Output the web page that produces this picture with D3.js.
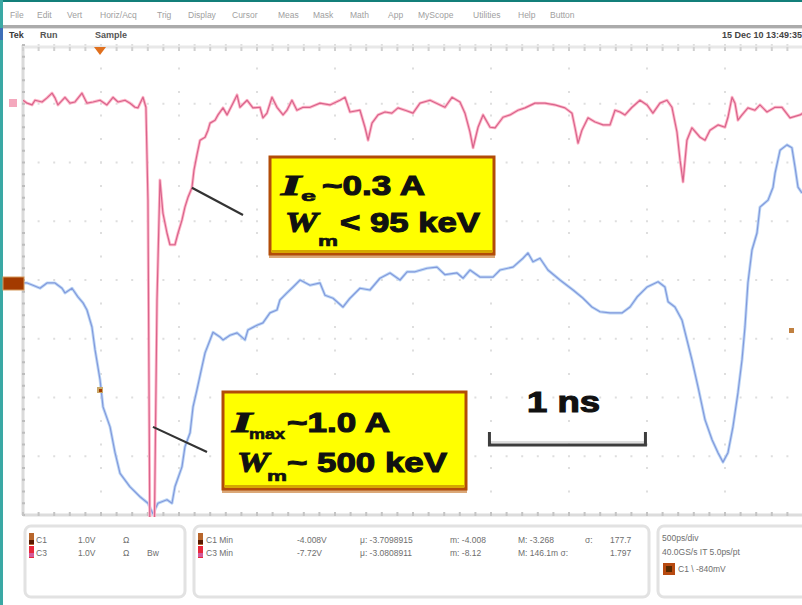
<!DOCTYPE html>
<html>
<head>
<meta charset="utf-8">
<script src="https://cdn.jsdelivr.net/npm/d3@7"></script>
<style>
  body { margin: 0; background: #fff; }
  svg { display: block; }
  text { font-family: "Liberation Sans", Arial, sans-serif; }
</style>
</head>
<body>
<svg id="scope" width="802" height="605"></svg>
<script>
// C3 (red, beam current) : time in ns, volts
const c3Time = [0.000, 0.026, 0.058, 0.077, 0.122, 0.154, 0.186, 0.205, 0.224, 0.269,
  0.301, 0.333, 0.378, 0.410, 0.449, 0.494, 0.538, 0.577, 0.609, 0.654,
  0.686, 0.718, 0.737, 0.769, 0.788, 0.801, 0.814, 0.840, 0.859, 0.878,
  0.897, 0.923, 0.942, 0.974, 0.994, 1.019, 1.038, 1.058, 1.083, 1.096,
  1.115, 1.135, 1.167, 1.186, 1.199, 1.231, 1.250, 1.282, 1.308, 1.346,
  1.372, 1.391, 1.436, 1.474, 1.519, 1.538, 1.564, 1.596, 1.628, 1.667,
  1.692, 1.724, 1.756, 1.795, 1.840, 1.904, 1.968, 2.032, 2.064, 2.096,
  2.160, 2.192, 2.212, 2.237, 2.276, 2.321, 2.365, 2.404, 2.449, 2.500,
  2.545, 2.609, 2.673, 2.705, 2.750, 2.801, 2.833, 2.865, 2.885, 2.917,
  2.949, 2.994, 3.026, 3.077, 3.122, 3.173, 3.218, 3.282, 3.346, 3.410,
  3.474, 3.519, 3.538, 3.558, 3.583, 3.622, 3.667, 3.718, 3.763, 3.795,
  3.827, 3.859, 3.904, 3.955, 4.000, 4.038, 4.083, 4.128, 4.160, 4.192,
  4.212, 4.231, 4.256, 4.288, 4.340, 4.372, 4.404, 4.455, 4.500, 4.519,
  4.545, 4.564, 4.583, 4.609, 4.647, 4.692, 4.724, 4.769, 4.821, 4.865,
  4.917, 4.981, 5.000];
const c3Volts = [0.06, 0.01, -0.02, 0.06, 0.03, 0.10, 0.18, 0.10, -0.02, 0.11,
  0.01, 0.03, 0.18, 0.01, 0.03, 0.06, -0.02, 0.11, 0.03, 0.06,
  0.01, -0.06, -0.07, 0.11, -0.06, -1.64, -7.72, -7.72, -3.34, -1.30,
  -1.86, -2.20, -2.40, -2.40, -2.20, -1.98, -1.76, -1.59, -1.43, -1.13,
  -0.87, -0.62, -0.57, -0.45, -0.33, -0.28, -0.19, -0.07, -0.19, 0.01,
  0.15, -0.06, 0.06, -0.07, -0.06, -0.24, -0.16, 0.11, -0.06, -0.19,
  -0.11, 0.06, -0.11, -0.06, -0.06, 0.01, -0.02, 0.06, 0.11, -0.14,
  -0.11, -0.40, -0.62, -0.33, -0.19, -0.14, -0.16, -0.07, -0.11, -0.16,
  0.01, 0.06, -0.02, -0.06, 0.11, 0.03, -0.16, -0.48, -0.75, -0.40,
  -0.19, -0.40, -0.41, -0.23, -0.19, -0.11, -0.07, 0.01, 0.01, -0.02,
  -0.07, -0.16, -0.40, -0.67, -0.45, -0.24, -0.31, -0.36, -0.36, -0.11,
  -0.14, -0.19, -0.06, 0.06, -0.02, -0.16, 0.01, 0.06, -0.06, -0.48,
  -0.96, -1.33, -0.62, -0.41, -0.57, -0.62, -0.45, -0.36, -0.40, -0.23,
  0.11, 0.01, -0.28, -0.19, -0.07, -0.11, -0.02, -0.14, -0.06, -0.06,
  -0.24, -0.19, -0.16];

// C1 (blue) : time in ns, volts
const c1Time = [0.000, 0.026, 0.064, 0.109, 0.154, 0.205, 0.250, 0.269, 0.314, 0.353,
  0.385, 0.410, 0.442, 0.462, 0.494, 0.513, 0.558, 0.590, 0.622, 0.686,
  0.750, 0.801, 0.833, 0.865, 0.923, 0.955, 0.974, 1.019, 1.038, 1.071,
  1.090, 1.115, 1.147, 1.167, 1.199, 1.218, 1.263, 1.282, 1.327, 1.372,
  1.423, 1.442, 1.500, 1.538, 1.583, 1.628, 1.647, 1.692, 1.731, 1.776,
  1.840, 1.904, 1.936, 1.987, 2.051, 2.096, 2.160, 2.224, 2.288, 2.353,
  2.417, 2.462, 2.513, 2.590, 2.654, 2.705, 2.782, 2.821, 2.865, 2.929,
  3.013, 3.058, 3.141, 3.205, 3.237, 3.269, 3.314, 3.365, 3.442, 3.526,
  3.590, 3.647, 3.699, 3.763, 3.840, 3.891, 3.936, 4.000, 4.071, 4.115,
  4.135, 4.179, 4.224, 4.256, 4.288, 4.327, 4.372, 4.417, 4.455, 4.487,
  4.519, 4.551, 4.583, 4.609, 4.628, 4.647, 4.673, 4.705, 4.724, 4.776,
  4.808, 4.821, 4.853, 4.897, 4.929, 4.949, 4.968, 4.994];
const c1Volts = [-0.05, -0.05, -0.09, -0.14, -0.05, -0.05, -0.14, -0.22, -0.14, -0.29,
  -0.39, -0.51, -0.80, -1.19, -1.70, -2.16, -2.50, -2.94, -3.29, -3.52,
  -3.69, -3.80, -3.98, -3.80, -3.74, -3.80, -3.52, -3.18, -2.84, -2.60,
  -2.16, -1.87, -1.48, -1.24, -1.02, -0.89, -0.97, -1.02, -0.94, -0.90,
  -1.02, -0.85, -0.77, -0.73, -0.56, -0.51, -0.34, -0.22, -0.12, 0.00,
  -0.09, -0.05, -0.26, -0.31, -0.46, -0.31, -0.14, -0.17, 0.03, 0.12,
  0.00, 0.14, 0.14, 0.20, 0.22, 0.09, 0.12, 0.03, 0.17, 0.05,
  0.05, 0.17, 0.22, 0.37, 0.46, 0.31, 0.37, 0.17, 0.00, -0.17,
  -0.31, -0.46, -0.54, -0.56, -0.56, -0.46, -0.29, -0.12, -0.03, -0.12,
  -0.37, -0.46, -0.68, -1.02, -1.36, -1.82, -2.38, -2.72, -2.94, -3.10,
  -2.94, -2.50, -1.92, -1.36, -0.80, -0.05, 0.51, 0.80, 1.24, 1.36,
  1.58, 1.82, 2.21, 2.30, 2.25, 1.92, 1.58, 1.48];

const menuItems = ["File", "Edit", "Vert", "Horiz/Acq", "Trig", "Display", "Cursor", "Meas",
  "Mask", "Math", "App", "MyScope", "Utilities", "Help", "Button"];
const menuX = [10, 37, 67, 100, 157, 188, 232, 278, 313, 350, 388, 418, 473, 518, 550];

const chanRows = [["C1", "1.0V", "Ω", ""], ["C3", "1.0V", "Ω", "Bw"]];
const measRows = [
  ["C1 Min", "-4.008V", "μ: -3.7098915", "m: -4.008", "M: -3.268", "σ:", "177.7"],
  ["C3 Min", "-7.72V", "μ: -3.0808911", "m: -8.12", "M: 146.1m σ:", "", "1.797"]
];
const horizRows = ["500ps/div", "40.0GS/s IT 5.0ps/pt"];
const trigText = "C1 \\ -840mV";

const svg = d3.select("#scope");

let plot = {left: 23, right: 803, top: 45, bottom: 515};
let x = d3.scaleLinear().domain([0, 5]).range([plot.left, plot.right]);     // 500 ps/div
let y = d3.scaleLinear().domain([-4, 4]).range([plot.bottom, plot.top]);    // divisions
let voltsPerDiv = 1.0;
let c1Pos = 0, c3Pos = 3;

// window frame
svg.append("rect").attr("x", 0).attr("y", 0).attr("width", 802).attr("height", 2).attr("fill", "#137f7a");
svg.append("rect").attr("x", 0).attr("y", 0).attr("width", 3).attr("height", 605).attr("fill", "#3aa8a4");
svg.append("rect").attr("x", 0).attr("y", 28).attr("width", 3).attr("height", 12).attr("fill", "#3d6fb8");

svg.selectAll("text.menu")
  .data(menuItems)
  .enter().append("text")
  .attr("class", "menu")
  .attr("x", (d, i) => menuX[i])
  .attr("y", 18)
  .attr("font-size", 8.5)
  .attr("fill", "#a0a0a0")
  .text(d => d);

svg.append("rect").attr("x", 3).attr("y", 25).attr("width", 799).attr("height", 3).attr("fill", "#ababab");
svg.append("rect").attr("x", 3).attr("y", 28).attr("width", 799).attr("height", 1).attr("fill", "#dedede");

svg.append("text").attr("x", 9).attr("y", 38).attr("font-size", 9).attr("font-weight", "bold").attr("fill", "#3a3a3a").text("Tek");
svg.append("text").attr("x", 40).attr("y", 38).attr("font-size", 9).attr("font-weight", "bold").attr("fill", "#555").text("Run");
svg.append("text").attr("x", 95).attr("y", 38).attr("font-size", 9).attr("font-weight", "bold").attr("fill", "#555").text("Sample");
svg.append("text").attr("x", 802).attr("y", 38).attr("font-size", 9).attr("font-weight", "bold")
  .attr("text-anchor", "end").attr("fill", "#444").text("15 Dec 10 13:49:35");

// graticule
let grid = svg.append("g");
let majorT = d3.range(0, 5.001, 0.5);
let majorD = d3.range(-4, 4.001, 1);

majorT.forEach(function(t) {
  grid.selectAll(null)
    .data(d3.range(-4, 4.001, 0.4))
    .enter().append("rect")
    .attr("x", x(t) - 1).attr("y", d => y(d) - 1)
    .attr("width", 2).attr("height", 2)
    .attr("fill", "#dedede");
});
majorD.forEach(function(dv) {
  grid.selectAll(null)
    .data(d3.range(0, 5.001, 0.1))
    .enter().append("rect")
    .attr("x", d => x(d) - 1).attr("y", y(dv) - 1)
    .attr("width", 2).attr("height", 2)
    .attr("fill", "#dedede");
});

// borders with ticks
grid.append("line").attr("x1", plot.left).attr("x2", plot.left).attr("y1", plot.top).attr("y2", plot.bottom)
  .attr("stroke", "#dadada").attr("stroke-width", 3);
grid.append("line").attr("x1", plot.left).attr("x2", 802).attr("y1", plot.top + 2).attr("y2", plot.top + 2)
  .attr("stroke", "#e8e8e8").attr("stroke-width", 3);
grid.append("line").attr("x1", plot.left).attr("x2", 802).attr("y1", plot.bottom).attr("y2", plot.bottom)
  .attr("stroke", "#dcdcdc").attr("stroke-width", 3);

grid.selectAll(null)
  .data(d3.range(-4, 4.001, 0.2))
  .enter().append("rect")
  .attr("x", plot.left - 1).attr("y", d => y(d) - 1)
  .attr("width", 3).attr("height", 2).attr("fill", "#bdbdbd");
grid.selectAll(null)
  .data(d3.range(0, 5.001, 0.1))
  .enter().append("rect")
  .attr("x", d => x(d) - 1).attr("y", plot.bottom - 3)
  .attr("width", 2).attr("height", 4).attr("fill", "#c4c4c4");
grid.selectAll(null)
  .data(d3.range(0, 5.001, 0.1))
  .enter().append("rect")
  .attr("x", d => x(d) - 1).attr("y", plot.top + 2)
  .attr("width", 2).attr("height", 4).attr("fill", "#d0d0d0");

// traces
svg.append("clipPath").attr("id", "screen")
  .append("rect").attr("x", plot.left).attr("y", plot.top).attr("width", plot.right - plot.left).attr("height", plot.bottom - plot.top + 2);

function trace(times, volts, pos, under, over) {
  let pts = times.map((t, i) => [t, volts[i]]);
  let line = d3.line()
    .x(d => x(d[0]))
    .y(d => y(d[1] / voltsPerDiv + pos));
  let g = svg.append("g").attr("clip-path", "url(#screen)");
  g.append("path").datum(pts).attr("d", line)
    .attr("fill", "none").attr("stroke", under).attr("stroke-width", 3).attr("stroke-linejoin", "round");
  g.append("path").datum(pts).attr("d", line)
    .attr("fill", "none").attr("stroke", over).attr("stroke-width", 1.2).attr("stroke-linejoin", "round");
}

trace(c1Time, c1Volts, c1Pos, "#bed8f6", "#8399dc");
trace(c3Time, c3Volts, c3Pos, "#ffb8ca", "#d8648c");

// markers
svg.append("rect").attr("x", 3).attr("y", 277).attr("width", 21).attr("height", 13)
  .attr("fill", "#a33a00").attr("stroke", "#d59a5c").attr("stroke-width", 1);
svg.append("rect").attr("x", 9).attr("y", 99).attr("width", 8).attr("height", 8).attr("fill", "#f4a8bd");
svg.append("path").attr("d", "M94,47 L106,47 L100,55 Z").attr("fill", "#e0701e");
svg.append("rect").attr("x", 97).attr("y", 387).attr("width", 6).attr("height", 6).attr("fill", "#c9a86a");
svg.append("rect").attr("x", 99).attr("y", 389).attr("width", 3).attr("height", 3).attr("fill", "#a03c00");
svg.append("rect").attr("x", 789).attr("y", 328).attr("width", 5).attr("height", 5).attr("fill", "#c08040");

// annotation boxes
function noteBox(bx, by, bw, bh) {
  svg.append("rect").attr("x", bx - 1).attr("y", by + bh).attr("width", bw + 2).attr("height", 4).attr("fill", "#dba878");
  svg.append("rect").attr("x", bx).attr("y", by).attr("width", bw).attr("height", bh)
    .attr("fill", "#ffff00").attr("stroke", "#b24c08").attr("stroke-width", 3);
  svg.append("rect").attr("x", bx + 2).attr("y", by + bh - 4).attr("width", bw - 4).attr("height", 2).attr("fill", "#d4a800");
}

function label(tx, ty, str, size, len, opts) {
  let t = svg.append("text").attr("x", tx).attr("y", ty)
    .attr("font-size", size).attr("font-weight", "bold").attr("fill", "#111")
    .attr("stroke", "#111").attr("stroke-width", size > 20 ? 1.1 : 0.6)
    .text(str);
  if (len) t.attr("textLength", len).attr("lengthAdjust", "spacingAndGlyphs");
  if (opts == "serif") t.style("font-family", "'Liberation Serif', serif").attr("font-style", "italic");
  return t;
}

// connectors from the trace to the boxes
let anchor1 = [1.083, -1.43], anchor2 = [0.833, -5.50];
svg.append("line").attr("x1", x(anchor1[0])).attr("y1", y(anchor1[1] + c3Pos)).attr("x2", 243).attr("y2", 215)
  .attr("stroke", "#333").attr("stroke-width", 2.2);
svg.append("line").attr("x1", x(anchor2[0])).attr("y1", y(anchor2[1] + c3Pos)).attr("x2", 207).attr("y2", 452)
  .attr("stroke", "#333").attr("stroke-width", 2.2);

noteBox(270, 157, 224, 97);
label(281, 195, "I", 29, 20, "serif");
label(301, 201, "e", 14, 15);
label(322, 195, "~0.3 A", 28, 103);
label(285, 232, "W", 29, 33, "serif");
label(318, 246, "m", 15, 20);
label(340, 232, "< 95 keV", 28, 140);

noteBox(223, 392, 243, 97);
label(232, 432, "I", 29, 20, "serif");
label(249, 439, "max", 14, 36);
label(287, 432, "~1.0 A", 28, 103);
label(237, 472, "W", 29, 32, "serif");
label(267, 481, "m", 15, 20);
label(287, 472, "~ 500 keV", 28, 160);

// 1 ns scale bar
let barStart = 2.99;
svg.append("text").attr("x", 527).attr("y", 412).attr("font-size", 29).attr("font-weight", "bold").attr("fill", "#111")
  .attr("stroke", "#111").attr("stroke-width", 1.1)
  .attr("textLength", 73).attr("lengthAdjust", "spacingAndGlyphs").text("1 ns");
svg.append("line").attr("x1", x(barStart)).attr("x2", x(barStart + 1)).attr("y1", 442).attr("y2", 442)
  .attr("stroke", "#bdbdbd").attr("stroke-width", 1);
svg.append("path")
  .attr("d", "M" + x(barStart) + ",432 V445 H" + x(barStart + 1) + " V432")
  .attr("fill", "none").attr("stroke", "#3d3d3d").attr("stroke-width", 3);

// readout panels
function panel(px, pw) {
  svg.append("rect").attr("x", px).attr("y", 526).attr("width", pw).attr("height", 71).attr("rx", 6)
    .attr("fill", "#fff").attr("stroke", "#e2e2e2").attr("stroke-width", 3);
}
panel(25, 160);
panel(194, 455);
panel(658, 150);

let small = 8.5, grey = "#6e6e6e";
let chanColors = [["#b8662c", "#5a1a00"], ["#e8283c", "#d45a9a"]];
let chanCols = [36, 78, 123, 147];
chanRows.forEach(function(row, r) {
  let ry = 543 + r * 13;
  svg.append("rect").attr("x", 29).attr("y", ry - 10).attr("width", 5).attr("height", 12).attr("fill", chanColors[r][0]);
  svg.append("rect").attr("x", 29).attr("y", ry - 3).attr("width", 5).attr("height", 4).attr("fill", chanColors[r][1]);
  row.forEach(function(cell, c) {
    svg.append("text").attr("x", chanCols[c]).attr("y", ry).attr("font-size", small).attr("fill", grey).text(cell);
  });
});

let measCols = [206, 297, 360, 450, 518, 585, 610];
measRows.forEach(function(row, r) {
  let ry = 543 + r * 13;
  svg.append("rect").attr("x", 198).attr("y", ry - 10).attr("width", 5).attr("height", 12).attr("fill", chanColors[r][0]);
  svg.append("rect").attr("x", 198).attr("y", ry - 3).attr("width", 5).attr("height", 4).attr("fill", chanColors[r][1]);
  row.forEach(function(cell, c) {
    svg.append("text").attr("x", measCols[c]).attr("y", ry).attr("font-size", small).attr("fill", grey).text(cell);
  });
});

horizRows.forEach(function(txt, r) {
  svg.append("text").attr("x", 662).attr("y", 541 + r * 14).attr("font-size", small).attr("fill", grey).text(txt);
});
svg.append("rect").attr("x", 663).attr("y", 563).attr("width", 12).attr("height", 12).attr("fill", "#b84a10");
svg.append("rect").attr("x", 666).attr("y", 566).attr("width", 6).attr("height", 6).attr("fill", "#5a2a00");
svg.append("text").attr("x", 678).attr("y", 572).attr("font-size", small).attr("fill", grey).text(trigText);
</script>
</body>
</html>
